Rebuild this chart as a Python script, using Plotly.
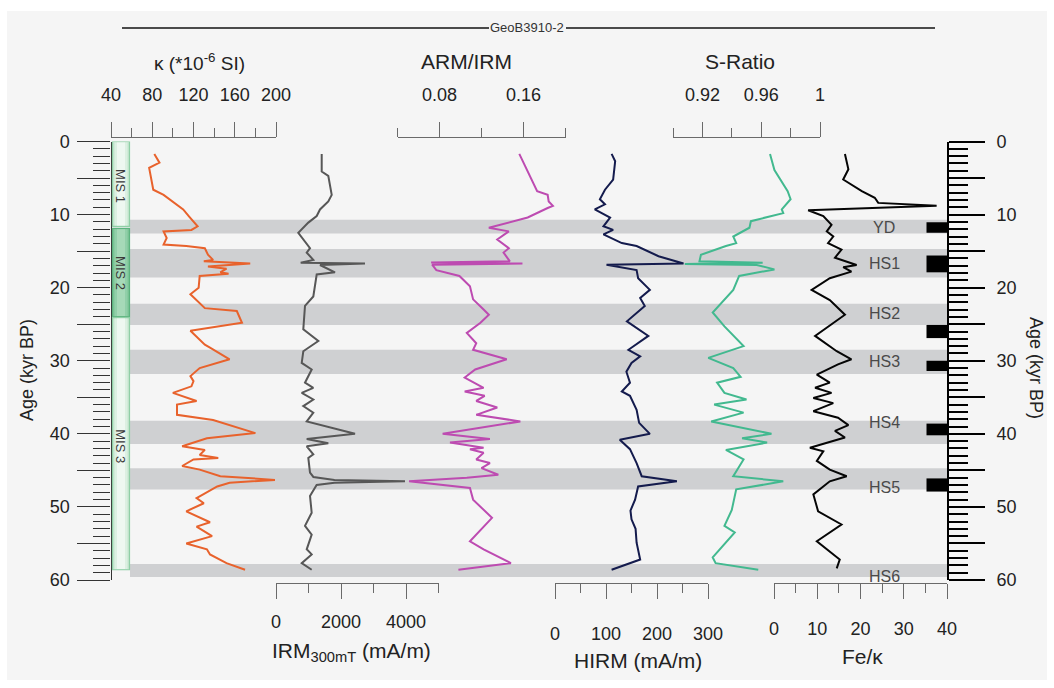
import plotly.graph_objects as go

W, H = 1054, 688
def px(x): return x / W
def py(y): return 1 - y / H

# ---------------- data ----------------
kappa_age = [1.7, 2.9, 3.6, 6.6, 7.3, 8.7, 9.3, 10.3, 11.6, 12.1, 12.3, 13.2, 14.1, 14.3, 14.6, 15.5, 16.2, 16.4, 16.7, 17.1, 17.4, 17.9, 18.1, 18.4, 20.0, 20.9, 22.3, 22.8, 23.2, 24.8, 25.9, 27.1, 27.8, 28.2, 29.8, 31.0, 32.1, 32.8, 33.5, 34.4, 35.5, 36.0, 37.4, 38.1, 39.9, 40.6, 41.7, 42.2, 42.9, 43.3, 43.5, 44.4, 44.9, 45.8, 46.3, 46.7, 47.2, 48.8, 49.5, 50.6, 52.1, 52.7, 54.0, 55.0, 55.8, 56.5, 57.7, 58.6]
kappa = [82, 87, 77, 81, 91, 104, 110, 116, 124, 118, 91, 94, 91, 113, 131, 134, 139, 130, 175, 134, 152, 146, 154, 126, 125, 117, 128, 131, 162, 167, 117, 126, 131, 136, 155, 126, 117, 120, 118, 100, 123, 104, 104, 139, 180, 133, 109, 131, 126, 144, 120, 109, 126, 146, 199, 155, 143, 123, 130, 113, 136, 123, 138, 113, 133, 136, 152, 170]

irm_age = [1.7, 4.1, 4.7, 7.3, 8.2, 9.3, 10.2, 11.1, 12.5, 13.4, 14.6, 15.2, 16.2, 16.6, 16.7, 16.9, 17.9, 18.2, 19.8, 21.2, 22.5, 25.7, 27.3, 28.7, 30.3, 31.2, 33.0, 33.7, 34.4, 35.3, 36.2, 37.1, 38.3, 40.0, 40.7, 41.3, 41.7, 42.8, 43.3, 45.3, 45.9, 46.3, 46.5, 46.7, 47.0, 48.5, 50.8, 52.6, 53.8, 55.8, 56.5, 57.7, 58.6]
irm = [1406, 1406, 1609, 1714, 1609, 1354, 1252, 994, 686, 840, 1046, 945, 1148, 760, 2738, 1354, 1815, 1252, 1200, 1148, 892, 840, 1302, 840, 791, 1098, 892, 1148, 791, 1148, 840, 1148, 945, 2431, 945, 1609, 945, 1148, 994, 1046, 1150, 1800, 3969, 1800, 1250, 1046, 1098, 892, 1098, 945, 1098, 791, 1098]

arm_age = [1.7, 6.8, 7.3, 8.2, 8.8, 9.1, 10.4, 11.8, 12.3, 13.4, 14.6, 15.2, 16.4, 16.55, 16.7, 16.85, 17.6, 18.4, 19.8, 21.6, 23.0, 23.7, 24.8, 26.2, 27.6, 28.5, 29.8, 31.2, 32.3, 33.7, 34.2, 34.8, 35.5, 36.4, 37.4, 38.3, 40.0, 40.7, 41.2, 41.9, 42.1, 42.6, 43.5, 44.0, 44.7, 45.6, 46.0, 46.5, 47.4, 49.0, 51.5, 54.7, 55.8, 57.7, 58.6]
arm_irm = [0.156, 0.173, 0.183, 0.184, 0.188, 0.183, 0.164, 0.127, 0.146, 0.135, 0.146, 0.141, 0.147, 0.072, 0.159, 0.073, 0.077, 0.099, 0.109, 0.112, 0.122, 0.127, 0.119, 0.106, 0.115, 0.112, 0.144, 0.114, 0.104, 0.122, 0.104, 0.123, 0.115, 0.135, 0.115, 0.157, 0.083, 0.128, 0.090, 0.122, 0.109, 0.122, 0.115, 0.128, 0.120, 0.136, 0.106, 0.051, 0.109, 0.112, 0.130, 0.109, 0.122, 0.148, 0.098]

hirm_age = [1.7, 2.7, 5.2, 6.6, 7.9, 8.6, 9.3, 10.4, 11.6, 12.1, 12.7, 13.9, 14.3, 15.7, 16.7, 16.85, 17.6, 18.7, 20.3, 21.4, 22.5, 24.6, 26.6, 28.5, 29.4, 30.3, 31.5, 33.0, 34.2, 34.8, 36.7, 38.5, 40.0, 40.8, 42.1, 43.3, 44.0, 45.8, 46.5, 47.2, 49.0, 50.5, 51.7, 53.0, 54.9, 57.2, 58.6]
hirm = [111, 118, 114, 98, 88, 98, 78, 108, 95, 114, 95, 131, 160, 203, 252, 101, 160, 163, 186, 167, 176, 141, 183, 144, 167, 150, 140, 147, 131, 147, 160, 165, 186, 127, 147, 155, 160, 170, 239, 163, 157, 148, 150, 158, 160, 167, 111]

sr_age = [1.7, 3.9, 6.8, 7.9, 9.3, 9.8, 10.9, 11.8, 13.0, 13.9, 14.3, 15.5, 16.4, 16.6, 16.75, 16.9, 17.5, 18.4, 20.3, 23.4, 25.3, 28.0, 29.6, 31.0, 32.2, 33.0, 34.4, 35.3, 36.0, 37.1, 38.3, 40.0, 40.6, 41.2, 42.2, 43.5, 45.8, 46.5, 47.6, 50.4, 52.6, 53.5, 56.9, 57.7, 58.6]
s_ratio = [0.966, 0.969, 0.978, 0.980, 0.974, 0.975, 0.953, 0.952, 0.941, 0.943, 0.936, 0.919, 0.918, 0.961, 0.908, 0.957, 0.969, 0.945, 0.941, 0.927, 0.935, 0.948, 0.924, 0.941, 0.946, 0.930, 0.935, 0.950, 0.928, 0.948, 0.926, 0.967, 0.947, 0.964, 0.936, 0.948, 0.941, 0.975, 0.943, 0.940, 0.935, 0.942, 0.927, 0.929, 0.958]

fe_age = [1.7, 3.8, 5.2, 6.8, 7.7, 8.4, 8.8, 9.4, 10.2, 11.4, 12.3, 13.0, 13.9, 14.8, 15.9, 16.9, 17.2, 17.8, 18.7, 20.3, 21.7, 23.7, 26.6, 28.7, 29.8, 30.5, 31.9, 33.0, 33.7, 34.4, 35.1, 35.8, 36.9, 37.8, 38.8, 39.6, 40.5, 41.9, 42.4, 43.7, 44.9, 45.8, 46.5, 48.3, 50.6, 52.4, 54.7, 56.1, 57.2, 58.4]
fe_kappa = [16.4, 17.2, 16.0, 20.3, 23.3, 24.1, 37.6, 7.9, 11.4, 13.3, 12.2, 13.7, 12.5, 15.6, 14.1, 19.1, 16.0, 17.9, 12.9, 8.7, 12.9, 16.4, 9.5, 14.5, 17.9, 14.8, 9.9, 12.9, 9.5, 13.3, 9.1, 13.7, 9.1, 14.8, 17.2, 14.1, 16.4, 8.3, 11.4, 9.9, 12.9, 16.8, 12.9, 9.1, 10.2, 15.6, 9.9, 12.9, 15.2, 14.5]

# stadial bands (age ranges) and labels
band_names = ["YD", "HS1", "HS2", "HS3", "HS4", "HS5", "HS6"]
band_start = [10.7, 14.7, 22.2, 28.5, 38.2, 44.7, 57.8]
band_end = [12.6, 18.6, 25.1, 31.8, 41.4, 47.6, 59.6]
label_age = [11.8, 16.7, 23.6, 30.1, 38.4, 47.4, 59.5]
# black event bars
bar_start = [11.05, 15.6, 25.1, 30.0, 38.6, 46.1]
bar_end = [12.5, 17.9, 26.9, 31.4, 40.2, 47.9]
# MIS stages
mis_names = ["MIS 1", "MIS 2", "MIS 3"]
mis_start = [0.0, 11.9, 24.1]
mis_end = [11.6, 24.0, 58.6]
mis_label_age = [6.1, 18.0, 41.7]

# tick values / labels
age_ticks = list(range(0, 61, 10))
age_labels = [str(v) for v in age_ticks]
age_mid_ticks = list(range(5, 60, 10))
kappa_ticks = [40, 80, 120, 160, 200]
kappa_minor = [60, 100, 140, 180]
irm_ticks = [0, 2000, 4000]
irm_minor = [1000, 3000, 5000]
arm_ticks = [0.08, 0.16]
arm_minor = [0.04, 0.12, 0.20]
hirm_ticks = [0, 100, 200, 300]
hirm_minor = [50, 150, 250]
sr_ticks = [0.92, 0.96, 1.0]
sr_labels = ["0.92", "0.96", "1"]
sr_minor = [0.90, 0.94, 0.98]
fe_ticks = [0, 10, 20, 30, 40]
fe_minor = [5, 15, 25, 35]

FONT = "Liberation Sans, Arial, sans-serif"
AX = "#6a6a6a"

fig = go.Figure()

def line_trace(x, y, xa, color, width=2.0):
    fig.add_trace(go.Scatter(x=x, y=y, xaxis=xa, yaxis="y", mode="lines",
                             line=dict(color=color, width=width),
                             hoverinfo="skip", showlegend=False))

line_trace(kappa, kappa_age, "x", "#e8622c")
line_trace(irm, irm_age, "x2", "#575757")
line_trace(arm_irm, arm_age, "x3", "#bd4bb1")
line_trace(hirm, hirm_age, "x4", "#141b4d")
line_trace(s_ratio, sr_age, "x5", "#42b98f")
line_trace(fe_kappa, fe_age, "x6", "#050505")
# invisible anchor traces so the extra age axes are drawn
for ya in ["y2", "y3", "y4"]:
    fig.add_trace(go.Scatter(x=[20], y=[30], xaxis="x6", yaxis=ya, mode="markers",
                             marker=dict(opacity=0), hoverinfo="skip", showlegend=False))


def xaxis_def(x0, x1, rng, tv, tt, mv, top, standoff, ypos):
    return dict(domain=[px(x0), px(x1)], range=rng, anchor="free", position=py(ypos),
                side="top" if top else "bottom", showline=True, linecolor=AX, linewidth=1,
                ticks="outside", ticklen=15, tickwidth=1, tickcolor=AX,
                tickmode="array", tickvals=tv, ticktext=tt,
                minor=dict(tickmode="array", tickvals=mv, ticklen=9, tickwidth=1,
                           tickcolor=AX, ticks="outside"),
                tickfont=dict(size=18, color="#222", family=FONT),
                ticklabelstandoff=standoff, showgrid=False, zeroline=False,
                fixedrange=True, automargin=False)


def yaxis_def(pos, side, color, lw, major_len, minor_len, tw, mtw, labels, standoff, overlay):
    d = dict(range=[60, 0], anchor="free", position=px(pos), side=side,
             showline=True, linecolor=color, linewidth=lw,
             ticks="outside", ticklen=major_len, tickwidth=tw, tickcolor=color,
             tickmode="array", tickvals=age_ticks if labels else age_mid_ticks,
             ticktext=age_labels if labels else None, showticklabels=labels,
             tickfont=dict(size=18, color="#222", family=FONT), ticklabelstandoff=standoff,
             showgrid=False, zeroline=False, fixedrange=True, automargin=False)
    if labels:
        d["minor"] = dict(tickmode="linear", tick0=0, dtick=1, ticklen=minor_len, tickwidth=mtw,
                          tickcolor=color, ticks="outside")
    if overlay:
        d["overlaying"] = "y"
    else:
        d["domain"] = [py(580), py(141.5)]
    return d


layout = dict(
    width=W, height=H, margin=dict(l=0, r=0, t=0, b=0, pad=0, autoexpand=False),
    paper_bgcolor="white", plot_bgcolor="rgba(0,0,0,0)",
    font=dict(family=FONT, color="#222"),
    showlegend=False,
    xaxis=xaxis_def(111, 276, [40, 200], kappa_ticks, [str(v) for v in kappa_ticks], kappa_minor, True, 14, 137),
    xaxis2=xaxis_def(276, 438.5, [0, 5000], irm_ticks, [str(v) for v in irm_ticks], irm_minor, False, 7, 583),
    xaxis3=xaxis_def(397.5, 565.5, [0.04, 0.2], arm_ticks, ["0.08", "0.16"], arm_minor, True, 14, 137),
    xaxis4=xaxis_def(555, 708, [0, 300], hirm_ticks, [str(v) for v in hirm_ticks], hirm_minor, False, 19, 583),
    xaxis5=xaxis_def(673, 820, [0.90, 1.0], sr_ticks, sr_labels, sr_minor, True, 14, 137),
    xaxis6=xaxis_def(774, 947, [0, 40], fe_ticks, [str(v) for v in fe_ticks], fe_minor, False, 14, 583),
    yaxis=yaxis_def(110.5, "left", "#333", 1.3, 33, 17, 1.3, 1.1, True, 4, False),
    yaxis3=yaxis_def(110.5, "left", "#333", 1.3, 33, 17, 1.3, 1.1, False, 4, True),
    yaxis2=yaxis_def(948, "right", "#000", 2, 36, 19, 2, 1.8, True, 8, True),
    yaxis4=yaxis_def(948, "right", "#000", 2, 36, 19, 2, 1.8, False, 8, True),
)

shapes = []
# light inner background
shapes.append(dict(type="rect", xref="paper", yref="paper", x0=px(7), x1=px(1047),
                   y0=py(680), y1=py(11), fillcolor="#f5f5f5", line=dict(width=0), layer="below"))
# stadial bands
for s, e in zip(band_start, band_end):
    shapes.append(dict(type="rect", xref="paper", yref="y", x0=px(130), x1=px(948),
                       y0=s, y1=e, fillcolor="#cfd0d2", line=dict(width=0), layer="below"))
# black event bars
for s, e in zip(bar_start, bar_end):
    shapes.append(dict(type="rect", xref="paper", yref="y", x0=px(926.5), x1=px(948),
                       y0=s, y1=e, fillcolor="#000", line=dict(width=0), layer="above"))
# MIS boxes (approximate horizontal gradient with nested strips)
mis_cols = [
    ("#8fcfa6", ["#c4e6cf", "#dcf0e2", "#eef8f1"]),
    ("#5cb37f", ["#7cc497", "#91cfa9", "#a6d9b8"]),
    ("#8fcfa6", ["#c4e6cf", "#dcf0e2", "#eef8f1"]),
]
for (s, e), (edge, fills) in zip(zip(mis_start, mis_end), mis_cols):
    insets = [(112.5, 129.5), (114.5, 127.5), (117, 125)]
    for i, ((a, b), f) in enumerate(zip(insets, fills)):
        shapes.append(dict(type="rect", xref="paper", yref="y", x0=px(a), x1=px(b),
                           y0=s + (0.12 if i else 0), y1=e - (0.12 if i else 0), fillcolor=f,
                           line=dict(width=1.2 if i == 0 else 0, color=edge), layer="above"))
# title line
shapes.append(dict(type="line", xref="paper", yref="paper", x0=px(122), x1=px(489),
                   y0=py(28), y1=py(28), line=dict(color="#111", width=1.5)))
shapes.append(dict(type="line", xref="paper", yref="paper", x0=px(566), x1=px(935),
                   y0=py(28), y1=py(28), line=dict(color="#111", width=1.5)))
layout["shapes"] = shapes

ann = []
def text(x, y, t, size, color="#222", angle=0, xref="paper", yref="paper"):
    ann.append(dict(x=x, y=y, xref=xref, yref=yref, text=t, showarrow=False,
                    textangle=angle, font=dict(size=size, color=color, family=FONT),
                    xanchor="center", yanchor="middle"))

text(px(527), py(28), "GeoB3910-2", 13, "#333")
text(px(199), py(62), "κ (*10<sup>-6</sup> SI)", 19)
text(px(466), py(62), "ARM/IRM", 21)
text(px(740), py(62), "S-Ratio", 21)
text(px(351), py(652), "IRM<sub>300mT</sub> (mA/m)", 21)
text(px(638), py(660), "HIRM (mA/m)", 21)
text(px(862), py(656), "Fe/κ", 21)
text(px(27), py(370), "Age (kyr BP)", 18, angle=-90)
text(px(1036), py(368), "Age (kyr BP)", 18, angle=90)
for name, a in zip(band_names, label_age):
    text(px(884), a, name, 16, "#4a4a4a", yref="y")
for name, a in zip(mis_names, mis_label_age):
    text(px(121), a, name, 13, "#3a3a3a", angle=90, yref="y")
layout["annotations"] = ann

fig.update_layout(**layout)
fig.write_html("out.html")
